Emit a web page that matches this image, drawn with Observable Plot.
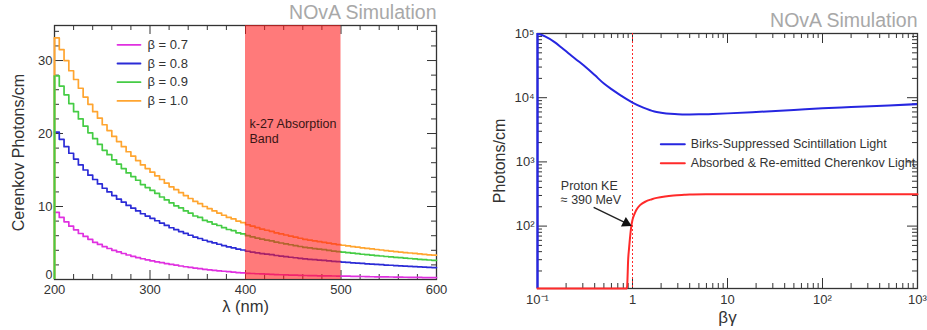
<!DOCTYPE html>
<html><head><meta charset="utf-8">
<script src="https://cdn.jsdelivr.net/npm/d3@7"></script>
<script src="https://cdn.jsdelivr.net/npm/@observablehq/plot@0.6"></script>
<style>
html,body{margin:0;padding:0;background:#fff;}
#wrap{display:flex;width:927px;height:330px;overflow:hidden;}
#wrap svg{display:block;}
</style></head><body><div id="wrap"></div>
<script>
// ---------------- Left panel data ----------------
const lambdaBins = [200,205,210,215,220,225,230,235,240,245,250,255,260,265,270,275,280,285,290,295,
  300,305,310,315,320,325,330,335,340,345,350,355,360,365,370,375,380,385,390,395,
  400,405,410,415,420,425,430,435,440,445,450,455,460,465,470,475,480,485,490,495,
  500,505,510,515,520,525,530,535,540,545,550,555,560,565,570,575,580,585,590,595];
const lambdaMax = 600;
const betaLabels = ["β = 0.7", "β = 0.8", "β = 0.9", "β = 1.0"];
const beta07 = [9.2,8.5,7.9,7.3,6.8,6.3,5.9,5.5,5.1,4.8,4.5,4.25,4.0,3.78,3.56,3.36,3.17,3.0,2.84,2.69,
  2.55,2.42,2.3,2.18,2.07,1.97,1.85,1.75,1.66,1.57,1.48,1.4,1.33,1.26,1.19,1.13,1.07,1.01,0.95,0.9,
  0.85,0.82,0.79,0.76,0.73,0.7,0.67,0.65,0.63,0.61,0.59,0.57,0.55,0.54,0.52,0.51,0.5,0.49,0.48,0.47,
  0.46,0.45,0.43,0.42,0.41,0.4,0.38,0.37,0.36,0.35,0.34,0.33,0.32,0.31,0.3,0.29,0.28,0.27,0.27,0.26];
const beta08 = [20.2,19.2,18.2,17.3,16.5,15.7,15.0,14.3,13.7,13.1,12.5,12.0,11.5,11.0,10.6,10.15,9.77,9.39,9.01,8.69,
  8.38,8.05,7.73,7.41,7.09,6.83,6.57,6.31,6.06,5.81,5.62,5.38,5.19,5.01,4.83,4.65,4.47,4.34,4.17,4.04,
  3.87,3.76,3.66,3.55,3.47,3.4,3.29,3.21,3.13,3.05,2.98,2.9,2.82,2.77,2.71,2.66,2.61,2.54,2.49,2.44,
  2.39,2.34,2.29,2.25,2.2,2.15,2.11,2.07,2.03,1.98,1.95,1.91,1.87,1.83,1.8,1.77,1.73,1.7,1.66,1.64];
const beta09 = [27.9,26.5,25.3,24.1,23.0,22.0,21.0,20.1,19.3,18.5,17.7,17.1,16.4,15.8,15.2,14.6,14.1,13.6,13.0,12.6,
  12.2,11.8,11.3,10.9,10.5,10.1,9.8,9.4,9.1,8.7,8.5,8.1,7.9,7.6,7.4,7.1,6.85,6.7,6.4,6.25,
  6.0,5.84,5.68,5.52,5.4,5.28,5.12,5.0,4.88,4.76,4.64,4.52,4.4,4.32,4.24,4.16,4.08,3.98,3.9,3.83,
  3.75,3.68,3.6,3.54,3.46,3.4,3.34,3.27,3.22,3.15,3.09,3.04,2.99,2.93,2.88,2.83,2.77,2.72,2.67,2.63];
const beta10 = [33.1,31.5,30.0,28.6,27.4,26.2,25.0,24.0,23.0,22.1,21.2,20.4,19.6,18.9,18.2,17.5,16.9,16.3,15.7,15.2,
  14.7,14.2,13.7,13.2,12.7,12.3,11.9,11.5,11.1,10.7,10.4,10.0,9.7,9.4,9.1,8.8,8.5,8.3,8.0,7.8,
  7.5,7.3,7.1,6.9,6.75,6.6,6.4,6.25,6.1,5.95,5.8,5.65,5.5,5.4,5.3,5.2,5.1,4.98,4.88,4.79,
  4.69,4.6,4.51,4.43,4.34,4.26,4.19,4.11,4.04,3.96,3.89,3.83,3.76,3.69,3.63,3.57,3.5,3.44,3.38,3.33];
const absorptionBand = [400, 500];
const bandLabel = "k-27 Absorption\nBand";
const xTicksLeft = [200, 300, 400, 500, 600];
const yTicksLeft = [0, 10, 20, 30];

// ---------------- Right panel data ----------------
const bgBirks = [0.1,0.12,0.15,0.18,0.22,0.27,0.33,0.4,0.5,0.6,0.75,1,1.3,1.7,2,2.5,3,4,5,7,10,20,50,100,200,500,1000];
const birksLight = [100000,90000,74000,60000,47000,37000,29000,22500,16600,13600,10900,8400,7000,6100,5850,5600,5500,5480,5500,5580,5700,6000,6450,6850,7150,7550,7950];
const bgCherenkov = [0.1,0.5,0.87,0.88,0.9,0.92,0.95,0.97,1,1.05,1.1,1.2,1.4,1.6,1.8,2.2,2.7,3.5,4,6,10,100,1000];
const cherenkovLight = [0,0,0,12,30,45,75,98,125,155,180,212,245,262,275,290,300,307,310,313,314,314,314];
const rightLegend = ["Birks-Suppressed Scintillation Light", "Absorbed & Re-emitted Cherenkov Light"];
const protonLabel = "Proton KE\n≈ 390 MeV";
const protonThreshold = 1;
const xTicksRight = [0.1, 1, 10, 100, 1000];
const yTicksRight = [100, 1000, 10000, 100000];

// ---------------- Styling ----------------
const FONT = '"Liberation Sans", Arial, Helvetica, sans-serif';
const AX = "#333";
const seriesColors = ["#e030e0", "#2b2bd6", "#45cc45", "#ffa530"];
const lineShape = {draw(ctx, l) { ctx.moveTo(0, 0); ctx.lineTo(0, -l); }};
const H = 330;
const MAJ = 9, MIN = 5;

// ===== Left plot =====
const WL = 460, mL = {left: 54, right: 24, top: 25, bottom: 51};
const iwL = WL - mL.left - mL.right, ihL = H - mL.top - mL.bottom;
const xDomL = [200, 600], yDomL = [0, 34.8];
const pxPerUnitY = ihL / (yDomL[1] - yDomL[0]);
const pxPerUnitX = iwL / (xDomL[1] - xDomL[0]);
const seriesL = [beta07, beta08, beta09, beta10].map((v, i) => ({
  name: betaLabels[i], color: seriesColors[i],
  pts: [...lambdaBins.map((x, j) => ({x, y: v[j]})), {x: lambdaMax, y: v[v.length - 1]}]
}));
const xMinorL = d3.range(200, 601, 20).filter(d => d % 100 !== 0);
const yMinorL = d3.range(0, 35, 2).filter(d => d % 10 !== 0);

function ticksLinear(xs, ys) {
  const out = [];
  for (const [arr, len] of [[xs[0], MAJ], [xs[1], MIN]]) {
    const dy = len / pxPerUnitY;
    out.push(Plot.ruleX(arr, {x: d => d, y1: yDomL[0], y2: yDomL[0] + dy, stroke: AX}));
    out.push(Plot.ruleX(arr, {x: d => d, y1: yDomL[1] - dy, y2: yDomL[1], stroke: AX}));
  }
  for (const [arr, len] of [[ys[0], MAJ], [ys[1], MIN]]) {
    const dx = len / pxPerUnitX;
    out.push(Plot.ruleY(arr, {y: d => d, x1: xDomL[0], x2: xDomL[0] + dx, stroke: AX}));
    out.push(Plot.ruleY(arr, {y: d => d, x1: xDomL[1] - dx, x2: xDomL[1], stroke: AX}));
  }
  return out;
}

const leftMarks = [
  Plot.frame({stroke: AX, strokeWidth: 1.3}),
  ...ticksLinear([xTicksLeft, xMinorL], [yTicksLeft, yMinorL]),
  Plot.axisX(xTicksLeft, {tickSize: 0, tickPadding: 5, fontSize: 13, label: null, fill: AX}),
  Plot.axisY(yTicksLeft.filter(d => d !== 0), {tickSize: 0, tickPadding: 2, fontSize: 13, label: null, fill: AX}),
  Plot.axisY(yTicksLeft.filter(d => d === 0), {tickSize: 0, tickPadding: 2, dy: -4.5, fontSize: 12.5, label: null, fill: AX}),
  // curves
  ...seriesL.map(s => Plot.line(s.pts, {x: "x", y: "y", curve: "step-after", stroke: s.color, strokeWidth: 1.7})),
  Plot.ruleX([seriesL[3]], {x: lambdaBins[0], y1: 0, y2: s => s.pts[0].y, stroke: seriesL[3].color, strokeWidth: 2}),
  Plot.ruleX([seriesL[2]], {x: lambdaBins[0], y1: 0, y2: s => s.pts[0].y, stroke: seriesL[2].color, strokeWidth: 2}),
  // absorption band
  Plot.rect([absorptionBand], {x1: d => d[0], x2: d => d[1], fill: "#ff1a1a", fillOpacity: 0.58}),
  Plot.text([bandLabel], {x: absorptionBand[0], frameAnchor: "top", text: d => d, dx: 4, dy: 105, textAnchor: "start", lineAnchor: "middle", lineHeight: 1.2, fontSize: 12.5, fill: "#3a1515"}),
  // legend
  ...seriesL.flatMap((s, i) => [
    Plot.vector([s], {frameAnchor: "top-left", dx: 63, dy: 19.3 + i * 18.7, length: 23, rotate: 90, anchor: "start", shape: lineShape, stroke: s.color, strokeWidth: 1.8}),
    Plot.text([s], {frameAnchor: "top-left", dx: 93, dy: 19.3 + i * 18.7, text: d => d.name, textAnchor: "start", lineAnchor: "middle", fontSize: 13, fill: AX})
  ]),
  // titles
  Plot.text(["Cerenkov Photons/cm"], {frameAnchor: "left", text: d => d, rotate: -90, dx: -36, textAnchor: "middle", lineAnchor: "middle", fontSize: 16, fill: "#333"}),
  Plot.text(["λ (nm)"], {frameAnchor: "bottom", text: d => d, dy: 27, textAnchor: "middle", lineAnchor: "middle", fontSize: 16.5, fill: "#333"}),
  Plot.text(["NOvA Simulation"], {frameAnchor: "top-right", text: d => d, dy: -7, lineAnchor: "bottom", textAnchor: "end", fontSize: 19.5, fill: "#a8a8a8"})
];

const left = Plot.plot({
  width: WL, height: H,
  marginLeft: mL.left, marginRight: mL.right, marginTop: mL.top, marginBottom: mL.bottom,
  x: {domain: xDomL},
  y: {domain: yDomL},
  style: {fontFamily: FONT, fontSize: "13px", color: AX, background: "transparent", overflow: "visible"},
  marks: leftMarks
});

// ===== Right plot =====
const WR = 467, mR = {left: 77, right: 10, top: 33, bottom: 42};
const iwR = WR - mR.left - mR.right, ihR = H - mR.top - mR.bottom;
const yMinR = 10.67;
const xDomR = [0.1, 1000], yDomR = [yMinR, 100000];
const ppdX = iwR / Math.log10(xDomR[1] / xDomR[0]);
const ppdY = ihR / Math.log10(yDomR[1] / yDomR[0]);
const supMap = {"-": "⁻", "0": "⁰", "1": "¹", "2": "²", "3": "³", "4": "⁴", "5": "⁵"};
const powLabel = d => {
  const e = Math.round(Math.log10(d));
  if (e === 0) return "1";
  if (e === 1) return "10";
  return "10" + String(e).split("").map(c => supMap[c]).join("");
};
const xMinorR = [-1, 0, 1, 2].flatMap(k => d3.range(2, 10).map(m => m * Math.pow(10, k)));
const yMinorR = [1, 2, 3, 4].flatMap(k => d3.range(2, 10).map(m => m * Math.pow(10, k)));

function ticksLog(xs, ys) {
  const out = [];
  for (const [arr, len] of [[xs[0], MAJ + 1], [xs[1], MIN]]) {
    const f = Math.pow(10, len / ppdY);
    out.push(Plot.ruleX(arr, {x: d => d, y1: yDomR[0], y2: yDomR[0] * f, stroke: AX}));
    out.push(Plot.ruleX(arr, {x: d => d, y1: yDomR[1] / f, y2: yDomR[1], stroke: AX}));
  }
  for (const [arr, len] of [[ys[0], MAJ + 1], [ys[1], MIN]]) {
    const f = Math.pow(10, len / ppdX);
    out.push(Plot.ruleY(arr, {y: d => d, x1: xDomR[0], x2: xDomR[0] * f, stroke: AX}));
    out.push(Plot.ruleY(arr, {y: d => d, x1: xDomR[1] / f, x2: xDomR[1], stroke: AX}));
  }
  return out;
}

const birksPts = bgBirks.map((x, i) => ({x, y: birksLight[i]}));
const cherPts = bgCherenkov.map((x, i) => ({x, y: Math.max(cherenkovLight[i], yMinR)}));
const BLUE = "#2626e0", RED = "#ff2a2a";

const rightMarks = [
  Plot.frame({stroke: AX, strokeWidth: 1.3}),
  ...ticksLog([xTicksRight, xMinorR], [yTicksRight, yMinorR]),
  Plot.axisX(xTicksRight, {tickSize: 0, tickPadding: 6, fontSize: 13, label: null, tickFormat: powLabel, fill: AX}),
  Plot.axisY(yTicksRight, {tickSize: 0, tickPadding: 3, fontSize: 13, label: null, tickFormat: powLabel, fill: AX}),
  // threshold line
  Plot.ruleX([protonThreshold], {x: d => d, stroke: RED, strokeWidth: 1, strokeDasharray: "2,2"}),
  // curves
  Plot.ruleX([birksPts[0]], {x: "x", y1: yMinR, y2: "y", stroke: BLUE, strokeWidth: 2.4}),
  Plot.line(cherPts, {x: "x", y: "y", stroke: RED, strokeWidth: 2, curve: "monotone-x"}),
  Plot.line(birksPts, {x: "x", y: "y", stroke: BLUE, strokeWidth: 2, curve: "monotone-x", clip: true}),
  // annotation
  Plot.text([protonLabel], {frameAnchor: "top-left", text: d => d, dx: 23.3, dy: 158.7, textAnchor: "start", lineAnchor: "middle", lineHeight: 1.15, fontSize: 12.5, fill: "#333"}),
  Plot.link([{x1: 0.39, y1: 196, x2: 0.858, y2: 111}], {x1: "x1", y1: "y1", x2: "x2", y2: "y2", stroke: "#222", strokeWidth: 1.4}),
  Plot.dot([{x: 0.858, y: 111}], {x: "x", y: "y", symbol: "triangle", r: 4, rotate: 117, fill: "#111"}),
  // legend
  ...rightLegend.flatMap((name, i) => [
    Plot.vector([name], {frameAnchor: "top-left", dx: 123.3, dy: 110.7 + i * 19, length: 24, rotate: 90, anchor: "start", shape: lineShape, stroke: i === 0 ? BLUE : RED, strokeWidth: 2}),
    Plot.text([name], {frameAnchor: "top-left", dx: 153.3, dy: 110.7 + i * 19, text: d => d, textAnchor: "start", lineAnchor: "middle", fontSize: 12.5, fill: AX})
  ]),
  // titles
  Plot.text(["Photons/cm"], {frameAnchor: "left", text: d => d, rotate: -90, dx: -38, textAnchor: "middle", lineAnchor: "middle", fontSize: 16, fill: "#333"}),
  Plot.text(["βγ"], {frameAnchor: "bottom", text: d => d, dy: 29, textAnchor: "middle", lineAnchor: "middle", fontSize: 17, fill: "#333"}),
  Plot.text(["NOvA Simulation"], {frameAnchor: "top-right", text: d => d, dy: -7, lineAnchor: "bottom", textAnchor: "end", fontSize: 19.5, fill: "#a8a8a8"})
];

const right = Plot.plot({
  width: WR, height: H,
  marginLeft: mR.left, marginRight: mR.right, marginTop: mR.top, marginBottom: mR.bottom,
  x: {type: "log", domain: xDomR},
  y: {type: "log", domain: yDomR},
  style: {fontFamily: FONT, fontSize: "13px", color: AX, background: "transparent", overflow: "visible"},
  marks: rightMarks
});

document.getElementById("wrap").append(left, right);
</script>
</body></html>
